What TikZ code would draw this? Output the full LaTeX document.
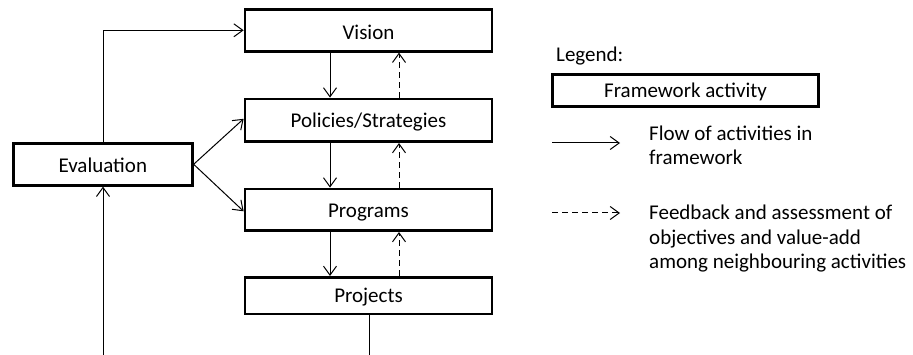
\documentclass[tikz,border=0pt]{standalone}
\usepackage{fontspec}
\setmainfont{Carlito}
\usetikzlibrary{arrows.meta}
\begin{document}
\begin{tikzpicture}[x=1pt,y=-1pt,
  box/.style={draw,line width=2.7pt,inner sep=0pt,text height=15pt,text depth=0pt,font=\fontsize{21}{24}\selectfont},
  flow/.style={line width=1pt,-{Straight Barb[length=9pt,width=13pt,line width=1pt]}},
  fb/.style={flow,dash pattern=on 6pt off 4pt},
  legtext/.style={font=\fontsize{21}{24.5}\selectfont,align=left,inner sep=0pt,anchor=base west}]
\useasboundingbox (0,0) rectangle (913,355);
\node[box,minimum width=247pt,minimum height=42pt,text height=18pt] (vis) at (368.5,30.3) {Vision};
\node[box,minimum width=247pt,minimum height=42.7pt,text height=14pt] (pol) at (368.5,120.3) {Policies/Strategies};
\node[box,minimum width=247pt,minimum height=41.7pt] (prg) at (368.5,209.8) {Programs};
\node[box,minimum width=247pt,minimum height=36.7pt,text height=14pt] (prj) at (368.5,295.7) {Projects};
\node[box,minimum width=179pt,minimum height=42pt,text height=17pt] (eva) at (102.8,164.3) {Evaluation};
% connectors
\coordinate (bendV) at (103,30.3);
\draw[flow] (eva.north -| bendV) -- (bendV) -- (vis.west);
\draw[flow] (eva.east) -- ([yshift=1.5pt]pol.west);
\draw[flow] (eva.east) -- ([yshift=-1.5pt]prg.west);
\coordinate (evalin) at (103,355);
\draw[flow] (evalin) -- (eva.south -| evalin);
\coordinate (prjout) at (369,355);
\draw[line width=1pt] (prj.south -| prjout) -- (prjout);
\foreach \a/\b in {vis/pol,pol/prg,prg/prj}{
  \draw[flow] (\a.south -| 330,0) -- (\b.north -| 330,0);
  \draw[fb] (\b.north -| 399,0) -- (\a.south -| 399,0);
}
% legend
\node[legtext] (leg) at (556,62) {Legend:};
\node[box,minimum width=266pt,minimum height=31.6pt] (legbox) at (685.5,90.5) {Framework activity};
\coordinate (l1a) at (552,143);
\coordinate (l1b) at (620,143);
\draw[flow] (l1a) -- (l1b);
\node[legtext] (l1t) at (649,165) {Flow of activities in\\framework};
\coordinate (l2a) at (552,213);
\coordinate (l2b) at (620,213);
\draw[fb] (l2a) -- (l2b);
\node[legtext] (l2t) at (649,269) {Feedback and assessment of\\objectives and value-add\\among neighbouring activities};
\end{tikzpicture}
\end{document}
